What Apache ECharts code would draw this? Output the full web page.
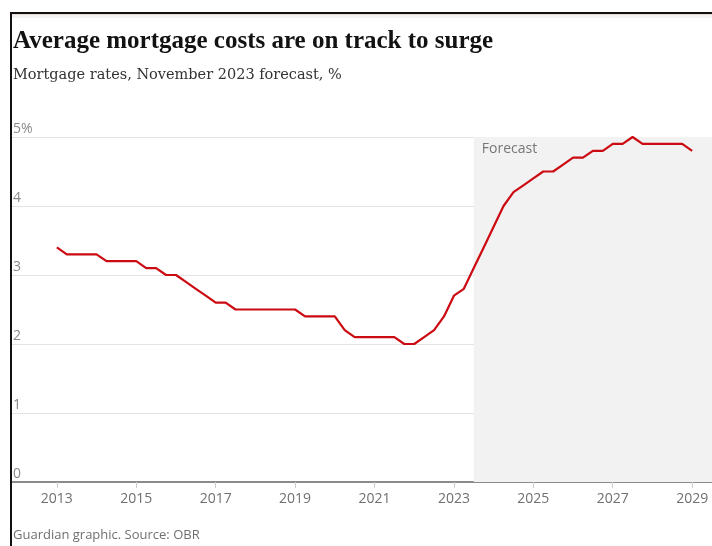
<!DOCTYPE html>
<html>
<head>
<meta charset="utf-8">
<script src="https://cdn.jsdelivr.net/npm/echarts@6/dist/echarts.min.js"></script>
<style>
  html, body { margin: 0; padding: 0; background: #fff; }
  #chart { width: 712px; height: 546px; }
</style>
</head>
<body>
<div id="chart"></div>
<script>
// Quarterly periods, from 2013 Q1 to 2029 Q1
const quarters = [
  '2013 Q1','2013 Q2','2013 Q3','2013 Q4',
  '2014 Q1','2014 Q2','2014 Q3','2014 Q4',
  '2015 Q1','2015 Q2','2015 Q3','2015 Q4',
  '2016 Q1','2016 Q2','2016 Q3','2016 Q4',
  '2017 Q1','2017 Q2','2017 Q3','2017 Q4',
  '2018 Q1','2018 Q2','2018 Q3','2018 Q4',
  '2019 Q1','2019 Q2','2019 Q3','2019 Q4',
  '2020 Q1','2020 Q2','2020 Q3','2020 Q4',
  '2021 Q1','2021 Q2','2021 Q3','2021 Q4',
  '2022 Q1','2022 Q2','2022 Q3','2022 Q4',
  '2023 Q1','2023 Q2','2023 Q3','2023 Q4',
  '2024 Q1','2024 Q2','2024 Q3','2024 Q4',
  '2025 Q1','2025 Q2','2025 Q3','2025 Q4',
  '2026 Q1','2026 Q2','2026 Q3','2026 Q4',
  '2027 Q1','2027 Q2','2027 Q3','2027 Q4',
  '2028 Q1','2028 Q2','2028 Q3','2028 Q4',
  '2029 Q1'
];

// Average mortgage rate, %
const mortgageRate = [
  3.4, 3.3, 3.3, 3.3,
  3.3, 3.2, 3.2, 3.2,
  3.2, 3.1, 3.1, 3.0,
  3.0, 2.9, 2.8, 2.7,
  2.6, 2.6, 2.5, 2.5,
  2.5, 2.5, 2.5, 2.5,
  2.5, 2.4, 2.4, 2.4,
  2.4, 2.2, 2.1, 2.1,
  2.1, 2.1, 2.1, 2.0,
  2.0, 2.1, 2.2, 2.4,
  2.7, 2.8, 3.1, 3.4,
  3.7, 4.0, 4.2, 4.3,
  4.4, 4.5, 4.5, 4.6,
  4.7, 4.7, 4.8, 4.8,
  4.9, 4.9, 5.0, 4.9,
  4.9, 4.9, 4.9, 4.9,
  4.8
];

// Year tick labels and forecast period
const yearTicks = [2013, 2015, 2017, 2019, 2021, 2023, 2025, 2027, 2029];
const forecastStart = 2023.5;
const forecastEnd = 2029.5;

const titleText = 'Average mortgage costs are on track to surge';
const subtitleText = 'Mortgage rates, November 2023 forecast, %';
const sourceText = 'Guardian graphic. Source: OBR';
const forecastText = 'Forecast';

// Convert "YYYY Qn" into a fractional year for the value axis
function quarterToYear(q) {
  const [y, qq] = q.split(' Q');
  return Number(y) + (Number(qq) - 1) / 4;
}
const seriesData = quarters.map((q, i) => [quarterToYear(q), mortgageRate[i]]);

const sansFont = '"Open Sans", sans-serif';

const chart = echarts.init(document.getElementById('chart'), null, { renderer: 'canvas' });
chart.setOption({
  animation: false,
  backgroundColor: '#ffffff',
  title: [
    {
      text: titleText,
      left: 13, top: 29, padding: 0,
      textStyle: { fontFamily: '"Liberation Serif", serif', fontWeight: 'bold', fontSize: 25, color: '#121212' }
    },
    {
      text: subtitleText,
      left: 13, top: 68, padding: 0,
      textStyle: { fontFamily: '"DejaVu Serif", serif', fontWeight: 'normal', fontSize: 14.5, color: '#333333' }
    },
    {
      text: sourceText,
      left: 13, top: 529, padding: 0,
      textStyle: { fontFamily: sansFont, fontWeight: 'normal', fontSize: 13, color: '#707070' }
    }
  ],
  grid: { left: 12, right: 0, top: 137, bottom: 64, containLabel: false },
  xAxis: {
    type: 'value',
    min: 2011.87,
    max: forecastEnd,
    axisLine: { show: true, onZero: false, lineStyle: { color: '#8a8a8a', width: 2 } },
    axisTick: { show: true, customValues: yearTicks, length: 6, lineStyle: { color: '#cccccc', width: 1 } },
    axisLabel: {
      customValues: yearTicks,
      margin: 10,
      fontFamily: sansFont, fontSize: 14, color: '#707070',
      formatter: v => String(v)
    },
    splitLine: { show: false }
  },
  yAxis: {
    type: 'value',
    min: 0, max: 5, interval: 1,
    axisLine: { show: false },
    axisTick: { show: false },
    axisLabel: {
      inside: true,
      margin: 1,
      verticalAlign: 'bottom',
      padding: [0, 0, 1, 0],
      fontFamily: sansFont, fontSize: 14, color: '#8a8a8a',
      formatter: v => (v === 5 ? v + '%' : String(v))
    },
    splitLine: { show: true, lineStyle: { color: '#e3e3e3', width: 1 } }
  },
  series: [
    {
      type: 'line',
      data: seriesData,
      showSymbol: false,
      symbol: 'none',
      lineStyle: { color: '#cc0a11', width: 2.2 },
      z: 3,
      markArea: {
        silent: true,
        itemStyle: { color: '#f2f2f2' },
        label: { show: false },
        data: [[
          { xAxis: forecastStart, yAxis: 0 },
          { xAxis: forecastEnd, yAxis: 5 }
        ]]
      }
    }
  ],
  graphic: [
    // frame lines along the top and left edges
    { type: 'rect', shape: { x: 11, y: 12, width: 701, height: 2 }, style: { fill: '#111111' }, z: 100 },
    { type: 'rect', shape: { x: 11, y: 14, width: 701, height: 1 }, style: { fill: '#ead9d6' }, z: 100 },
    { type: 'rect', shape: { x: 11, y: 15, width: 701, height: 3 }, style: { fill: '#f3f3f3' }, z: 100 },
    { type: 'rect', shape: { x: 10, y: 12, width: 2, height: 534 }, style: { fill: '#111111' }, z: 100 }
  ]
});

// "Forecast" caption anchored to the top-left corner of the shaded period
function placeForecastLabel() {
  const pt = chart.convertToPixel({ gridIndex: 0 }, [forecastStart, 5]);
  chart.setOption({
    graphic: [{
      id: 'forecastLabel',
      type: 'text',
      x: pt[0] + 8,
      y: pt[1] + 5,
      z: 50,
      style: { text: forecastText, font: '14px ' + sansFont, fill: '#767676' }
    }]
  });
}
placeForecastLabel();
</script>
</body>
</html>
